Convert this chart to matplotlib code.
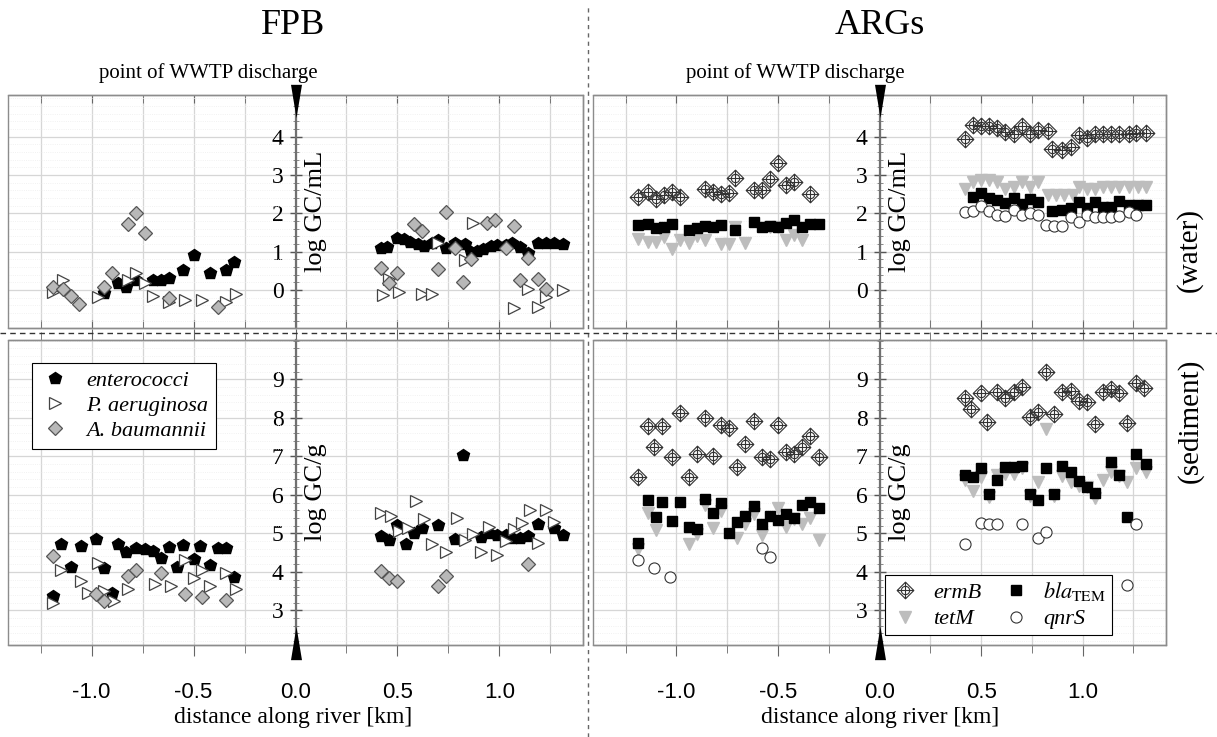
import numpy as np
import matplotlib
matplotlib.use("Agg")
import matplotlib.pyplot as plt
from matplotlib.path import Path
from matplotlib.lines import Line2D
from matplotlib.patches import Rectangle
from matplotlib.ticker import MultipleLocator
import matplotlib.transforms as mtransforms

plt.rcParams['font.family'] = ['Liberation Serif', 'DejaVu Serif']
plt.rcParams['mathtext.fontset'] = 'stix'
plt.rcParams['axes.unicode_minus'] = False

# ---------------- data: FPB, water (log GC/mL) ----------------
ent_w_x = [-0.94, -0.87, -0.83, -0.78, -0.70, -0.66, -0.62, -0.55, -0.50, -0.42, -0.34, -0.30,
           0.42, 0.45, 0.50, 0.53, 0.56, 0.60, 0.63, 0.67, 0.70, 0.74, 0.78, 0.83, 0.86, 0.89,
           0.92, 0.96, 0.99, 1.03, 1.06, 1.10, 1.14, 1.19, 1.23, 1.27, 1.31]
ent_w_y = [-0.08, 0.18, 0.08, 0.26, 0.26, 0.26, 0.31, 0.52, 0.91, 0.45, 0.52, 0.73,
           1.09, 1.13, 1.36, 1.33, 1.26, 1.20, 1.15, 1.22, 1.30, 1.11, 1.22, 1.20, 1.00, 1.03,
           1.06, 1.15, 1.18, 1.18, 1.22, 1.13, 0.96, 1.23, 1.22, 1.22, 1.20]
pae_w_x = [-1.19, -1.14, -0.97, -0.82, -0.78, -0.74, -0.70, -0.62, -0.54, -0.46, -0.34, -0.29,
           0.43, 0.46, 0.51, 0.62, 0.67, 0.70, 0.83, 0.87, 1.07, 1.14, 1.19, 1.23, 1.31]
pae_w_y = [-0.05, 0.26, -0.18, 0.26, 0.45, 0.18, -0.16, -0.31, -0.27, -0.27, -0.31, -0.10,
           -0.13, 0.30, -0.06, -0.09, -0.09, 1.23, 0.78, 1.76, -0.48, 0.02, -0.44, -0.18, 0.0]
aba_w_x = [-1.19, -1.14, -1.10, -1.06, -0.94, -0.90, -0.82, -0.78, -0.74, -0.62, -0.38,
           0.42, 0.46, 0.50, 0.58, 0.62, 0.70, 0.74, 0.78, 0.82, 0.86, 0.94, 0.98, 1.03, 1.07,
           1.10, 1.14, 1.19, 1.23]
aba_w_y = [0.08, 0.02, -0.16, -0.37, 0.08, 0.45, 1.72, 2.00, 1.49, -0.21, -0.44,
           0.57, 0.18, 0.45, 1.72, 1.55, 0.55, 2.04, 1.09, 0.20, 0.80, 1.76, 1.83, 1.09, 1.68,
           0.25, 0.83, 0.30, 0.03]

# ---------------- data: FPB, sediment (log GC/g) ----------------
ent_s_x = [-1.19, -1.15, -1.10, -1.05, -0.98, -0.94, -0.90, -0.87, -0.83, -0.78, -0.74, -0.70,
           -0.66, -0.62, -0.58, -0.55, -0.50, -0.47, -0.42, -0.38, -0.34, -0.30,
           0.42, 0.46, 0.50, 0.54, 0.58, 0.62, 0.70, 0.78, 0.82, 0.91, 0.95, 0.99, 1.03, 1.06,
           1.10, 1.14, 1.19, 1.27, 1.31]
ent_s_y = [3.37, 4.71, 4.13, 4.67, 4.86, 4.11, 3.46, 4.73, 4.51, 4.63, 4.58, 4.54,
           4.37, 4.65, 4.12, 4.69, 4.34, 4.67, 4.17, 4.61, 4.63, 3.87,
           4.93, 4.83, 5.21, 4.71, 5.00, 5.13, 5.21, 4.84, 7.03, 4.91, 5.00, 4.95, 4.95, 4.87,
           4.87, 4.93, 5.23, 5.15, 4.95]
pae_s_x = [-1.19, -1.15, -1.05, -1.02, -0.97, -0.94, -0.89, -0.82, -0.69, -0.61, -0.54, -0.50,
           -0.46, -0.42, -0.34, -0.29,
           0.42, 0.47, 0.51, 0.55, 0.59, 0.63, 0.67, 0.74, 0.79, 0.83, 0.87, 0.91, 0.95, 0.99,
           1.03, 1.07, 1.11, 1.15, 1.19, 1.23, 1.27]
pae_s_y = [3.20, 4.06, 3.76, 3.46, 4.24, 3.50, 3.24, 3.55, 3.68, 3.64, 4.32, 3.83,
           4.04, 3.62, 3.97, 3.55,
           5.54, 5.45, 5.06, 5.13, 5.84, 5.36, 4.71, 4.51, 5.41, 4.83, 4.97, 4.51, 5.16, 4.45,
           4.79, 5.10, 5.28, 5.60, 4.76, 5.60, 5.30]
aba_s_x = [-1.19, -0.98, -0.94, -0.82, -0.78, -0.66, -0.54, -0.46, -0.34,
           0.42, 0.46, 0.50, 0.70, 0.74, 1.14]
aba_s_y = [4.41, 3.42, 3.24, 3.89, 4.06, 3.98, 3.42, 3.35, 3.27,
           4.02, 3.85, 3.75, 3.62, 3.89, 4.21]

# ---------------- data: ARGs, water (log GC/mL) ----------------
erm_w_x = [-1.19, -1.14, -1.10, -1.06, -1.02, -0.98, -0.86, -0.82, -0.78, -0.74, -0.71, -0.62,
           -0.58, -0.54, -0.50, -0.46, -0.42, -0.34,
           0.42, 0.46, 0.50, 0.54, 0.58, 0.62, 0.66, 0.70, 0.74, 0.78, 0.83, 0.85, 0.90, 0.94,
           0.98, 1.02, 1.06, 1.10, 1.14, 1.18, 1.23, 1.26, 1.31]
erm_w_y = [2.42, 2.57, 2.38, 2.48, 2.57, 2.44, 2.65, 2.57, 2.51, 2.52, 2.92, 2.61,
           2.61, 2.90, 3.31, 2.74, 2.83, 2.51,
           3.93, 4.31, 4.28, 4.28, 4.22, 4.13, 4.07, 4.28, 4.07, 4.18, 4.15, 3.67, 3.66, 3.74,
           4.05, 3.96, 4.07, 4.07, 4.07, 4.07, 4.07, 4.11, 4.11]
bla_w_x = [-1.19, -1.14, -1.10, -1.06, -1.02, -0.94, -0.90, -0.86, -0.82, -0.78, -0.71, -0.62,
           -0.58, -0.54, -0.50, -0.46, -0.42, -0.38, -0.34, -0.30,
           0.46, 0.50, 0.54, 0.58, 0.62, 0.66, 0.70, 0.74, 0.78, 0.85, 0.90, 0.94, 0.98, 1.02,
           1.06, 1.10, 1.14, 1.18, 1.23, 1.27, 1.31]
bla_w_y = [1.70, 1.72, 1.63, 1.65, 1.72, 1.57, 1.61, 1.67, 1.65, 1.70, 1.58, 1.78,
           1.65, 1.67, 1.65, 1.74, 1.83, 1.65, 1.72, 1.72,
           2.42, 2.52, 2.39, 2.35, 2.28, 2.39, 2.25, 2.37, 2.31, 2.07, 2.09, 2.13, 2.31, 2.13,
           2.31, 2.18, 2.16, 2.33, 2.22, 2.22, 2.22]
tet_w_x = [-1.19, -1.14, -1.10, -1.06, -1.02, -0.98, -0.94, -0.90, -0.86, -0.78, -0.74, -0.71,
           -0.66, -0.54, -0.50, -0.46, -0.42, -0.38,
           0.42, 0.46, 0.50, 0.54, 0.58, 0.62, 0.66, 0.70, 0.74, 0.78, 0.83, 0.87, 0.91, 0.95,
           0.98, 1.02, 1.06, 1.10, 1.14, 1.18, 1.23, 1.27, 1.31]
tet_w_y = [1.32, 1.26, 1.26, 1.39, 1.06, 1.31, 1.22, 1.41, 1.31, 1.20, 1.20, 1.65,
           1.22, 1.65, 1.65, 1.31, 1.44, 1.31,
           2.65, 2.83, 2.87, 2.87, 2.83, 2.65, 2.68, 2.83, 2.68, 2.83, 2.48, 2.48, 2.48, 2.48,
           2.68, 2.65, 2.65, 2.70, 2.68, 2.68, 2.70, 2.70, 2.68]
qnr_w_x = [0.42, 0.46, 0.50, 0.54, 0.58, 0.62, 0.66, 0.70, 0.74, 0.78, 0.82, 0.86, 0.90, 0.94,
           0.98, 1.02, 1.06, 1.10, 1.14, 1.18, 1.23, 1.26]
qnr_w_y = [2.05, 2.07, 2.19, 2.07, 1.96, 1.93, 2.09, 1.96, 2.00, 1.96, 1.70, 1.67, 1.67, 1.90,
           1.78, 1.96, 1.90, 1.90, 1.90, 1.93, 2.05, 1.96]

# ---------------- data: ARGs, sediment (log GC/g) ----------------
erm_s_x = [-1.19, -1.14, -1.11, -1.07, -1.02, -0.98, -0.94, -0.90, -0.86, -0.82, -0.78, -0.74,
           -0.70, -0.66, -0.62, -0.58, -0.54, -0.50, -0.46, -0.42, -0.38, -0.34, -0.30,
           0.42, 0.45, 0.50, 0.53, 0.58, 0.62, 0.66, 0.70, 0.74, 0.78, 0.82, 0.86, 0.90, 0.94,
           0.98, 1.02, 1.06, 1.10, 1.14, 1.18, 1.22, 1.26, 1.30]
erm_s_y = [6.45, 7.79, 7.24, 7.79, 6.97, 8.13, 6.47, 7.07, 7.99, 7.01, 7.81, 7.73,
           6.71, 7.31, 7.92, 6.98, 6.92, 7.81, 7.10, 7.07, 7.23, 7.53, 6.98,
           8.51, 8.22, 8.65, 7.90, 8.68, 8.51, 8.68, 8.80, 8.02, 8.16, 9.20, 8.11, 8.68, 8.70,
           8.44, 8.42, 7.85, 8.68, 8.74, 8.65, 7.87, 8.91, 8.77]
bla_s_x = [-1.19, -1.14, -1.10, -1.07, -1.02, -0.98, -0.94, -0.90, -0.86, -0.82, -0.78, -0.74,
           -0.70, -0.66, -0.62, -0.58, -0.54, -0.50, -0.46, -0.42, -0.38, -0.34, -0.30,
           0.42, 0.46, 0.50, 0.54, 0.58, 0.62, 0.66, 0.70, 0.74, 0.78, 0.82, 0.86, 0.90, 0.94,
           0.98, 1.02, 1.06, 1.14, 1.18, 1.22, 1.26, 1.31]
bla_s_y = [4.76, 5.86, 5.42, 5.82, 5.32, 5.81, 5.16, 5.12, 5.88, 5.54, 5.80, 5.02,
           5.30, 5.45, 5.71, 5.23, 5.45, 5.34, 5.51, 5.39, 5.74, 5.82, 5.65,
           6.52, 6.46, 6.69, 6.01, 6.38, 6.72, 6.72, 6.75, 6.01, 5.86, 6.70, 6.03, 6.75, 6.58,
           6.36, 6.19, 6.06, 6.84, 6.52, 5.42, 7.07, 6.81]
tet_s_x = [-1.19, -1.14, -1.10, -0.94, -0.90, -0.86, -0.82, -0.78, -0.70, -0.66, -0.62, -0.58,
           -0.50, -0.46, -0.42, -0.38, -0.34, -0.30,
           0.42, 0.46, 0.50, 0.54, 0.58, 0.62, 0.66, 0.70, 0.74, 0.78, 0.82, 0.86, 0.90, 0.94,
           0.98, 1.02, 1.06, 1.10, 1.14, 1.18, 1.22, 1.26, 1.31]
tet_s_y = [4.58, 5.54, 5.08, 4.73, 4.97, 5.74, 5.15, 5.58, 4.89, 5.25, 5.51, 4.96,
           5.65, 5.16, 5.36, 5.23, 5.41, 4.82,
           6.38, 6.10, 6.45, 5.94, 6.52, 6.55, 6.55, 6.70, 5.97, 6.34, 7.70, 5.97, 6.49, 6.32,
           6.23, 6.20, 5.93, 6.38, 6.58, 6.49, 6.34, 6.69, 6.60]
qnr_s_x = [-1.19, -1.11, -1.03, -0.58, -0.54, 0.42, 0.50, 0.54, 0.58, 0.70, 0.78, 0.82, 1.22, 1.26]
qnr_s_y = [4.30, 4.11, 3.87, 4.61, 4.39, 4.71, 5.28, 5.23, 5.25, 5.25, 4.89, 5.03, 3.66, 5.23]

discharge_km = 0.0
xticks = [-1.0, -0.5, 0.0, 0.5, 1.0]

# diamond with circle and cross for ermB
circ = Path.circle((0, 0), 0.5)
diam = Path([(0, 1), (1, 0), (0, -1), (-1, 0), (0, 1)],
            [Path.MOVETO, Path.LINETO, Path.LINETO, Path.LINETO, Path.CLOSEPOLY])
cross = Path([(0, 1), (0, -1), (-1, 0), (1, 0)],
             [Path.MOVETO, Path.LINETO, Path.MOVETO, Path.LINETO])
erm_marker = Path.make_compound_path(diam, circ, cross)
tri_down = Path([(-0.33, 1), (0.33, 1), (0, -1), (-0.33, 1)],
                [Path.MOVETO, Path.LINETO, Path.LINETO, Path.CLOSEPOLY])
tri_up = Path([(-0.33, -1), (0.33, -1), (0, 1), (-0.33, -1)],
              [Path.MOVETO, Path.LINETO, Path.LINETO, Path.CLOSEPOLY])

fig = plt.figure(figsize=(12.17, 7.37), dpi=100)
L, W_l = 8 / 1217, 575 / 1217
R, W_r = 593 / 1217, 573 / 1217
B_top, H_top = 1 - 328 / 737, 233 / 737
B_bot, H_bot = 1 - 645 / 737, 305 / 737

ax_fw = fig.add_axes([L, B_top, W_l, H_top])
ax_fs = fig.add_axes([L, B_bot, W_l, H_bot])
ax_aw = fig.add_axes([R, B_top, W_r, H_top])
ax_as = fig.add_axes([R, B_bot, W_r, H_bot])

frame_c = '#8c8c8c'
grid_c = '#d6d6d6'


def setup(ax, ylim, yticks, ylabel, bottom):
    ax.set_xlim(-1.41, 1.41)
    ax.set_ylim(*ylim)
    ax.set_yticks(yticks)
    ax.set_xticks(xticks)
    ax.xaxis.set_minor_locator(MultipleLocator(0.25))
    ax.yaxis.set_minor_locator(MultipleLocator(0.2))
    ax.grid(which='major', color=grid_c, lw=0.9, zorder=0)
    ax.grid(which='minor', axis='x', color=grid_c, lw=0.9, zorder=0)
    ax.grid(which='minor', axis='y', color='#ededed', lw=0.6, ls=':', zorder=0)
    ax.set_axisbelow(True)
    ax.spines['left'].set_position(('data', discharge_km))
    ax.spines['left'].set_color('#707070')
    ax.spines['left'].set_linewidth(1.6)
    for s in ['top', 'bottom', 'right']:
        ax.spines[s].set_color(frame_c)
        ax.spines[s].set_linewidth(1.0)
    ax.add_patch(Rectangle((0, 0), 1, 1, transform=ax.transAxes, fill=False,
                           ec=frame_c, lw=1.0, clip_on=False, zorder=5))
    ax.tick_params(axis='y', which='major', direction='inout', length=9, width=1,
                   color='#555555', labelsize=17, pad=4)
    ax.tick_params(axis='y', which='minor', direction='inout', length=4, width=0.6,
                   color='#777777')
    ax.tick_params(axis='x', which='both', top=True, bottom=True, color='#666666')
    if bottom:
        ax.tick_params(axis='x', which='major', direction='out', length=8, pad=19,
                       labelsize=16, labelfontfamily=['Liberation Sans Narrow', 'Liberation Sans'])
        ax.tick_params(axis='x', which='minor', direction='out', length=6)
        ax.set_xticklabels(['%.1f' % t for t in xticks])
    else:
        ax.tick_params(axis='x', which='both', direction='in', length=6, labelbottom=False)
    ax.text(0.10, 0.5, ylabel, rotation=90, ha='center', va='center', fontsize=19,
            transform=mtransforms.blended_transform_factory(ax.transData, ax.transAxes))
    trans = mtransforms.blended_transform_factory(ax.transData, ax.transAxes)
    if bottom:
        ax.plot([discharge_km], [0.005], marker=tri_up, ms=24, color='black', mew=0,
                transform=trans, clip_on=False, zorder=10)
    else:
        ax.plot([discharge_km], [0.974], marker=tri_down, ms=24, color='black', mew=0,
                transform=trans, clip_on=False, zorder=10)


setup(ax_fw, (-0.99, 5.09), [0, 1, 2, 3, 4], 'log GC/mL', False)
setup(ax_aw, (-0.99, 5.09), [0, 1, 2, 3, 4], 'log GC/mL', False)
setup(ax_fs, (2.1, 10.02), [3, 4, 5, 6, 7, 8, 9], 'log GC/g', True)
setup(ax_as, (2.1, 10.02), [3, 4, 5, 6, 7, 8, 9], 'log GC/g', True)

ent_kw = dict(ls='none', marker='p', ms=9, mfc='black', mec='black', zorder=3)
pae_kw = dict(ls='none', marker='>', ms=9, mfc='white', mec='#444444', mew=0.9, zorder=3)
aba_kw = dict(ls='none', marker='D', ms=7, mfc='#b8b8b8', mec='#555555', mew=0.9, zorder=3)
erm_kw = dict(ls='none', marker=erm_marker, ms=12, mfc='none', mec='#333333', mew=0.8, zorder=3)
bla_kw = dict(ls='none', marker='s', ms=7.5, mfc='black', mec='black', zorder=3)
tet_kw = dict(ls='none', marker='v', ms=9, mfc='#bdbdbd', mec='#bdbdbd', zorder=3)
qnr_kw = dict(ls='none', marker='o', ms=8, mfc='white', mec='#333333', mew=0.8, zorder=3)

# FPB
ax_fw.plot(ent_w_x, ent_w_y, **ent_kw)
ax_fw.plot(pae_w_x, pae_w_y, **pae_kw)
ax_fw.plot(aba_w_x, aba_w_y, **aba_kw)
h1, = ax_fs.plot(ent_s_x, ent_s_y, label='enterococci', **ent_kw)
h2, = ax_fs.plot(pae_s_x, pae_s_y, label='P. aeruginosa', **pae_kw)
h3, = ax_fs.plot(aba_s_x, aba_s_y, label='A. baumannii', **aba_kw)
leg1 = ax_fs.legend(handles=[h1, h2, h3], loc='upper left', bbox_to_anchor=(0.042, 0.925),
                    prop=dict(style='italic', size=16), frameon=True, fancybox=False,
                    edgecolor='black', framealpha=1, borderpad=0.35, labelspacing=0.2,
                    handletextpad=0.7, handlelength=1.4, borderaxespad=0)
leg1.get_frame().set_linewidth(0.8)
leg1.set_zorder(20)

# ARGs
ax_aw.plot(erm_w_x, erm_w_y, **erm_kw)
ax_aw.plot(tet_w_x, tet_w_y, **tet_kw)
ax_aw.plot(bla_w_x, bla_w_y, **bla_kw)
ax_aw.plot(qnr_w_x, qnr_w_y, **qnr_kw)
g1, = ax_as.plot(erm_s_x, erm_s_y, label='ermB', **erm_kw)
g2, = ax_as.plot(tet_s_x, tet_s_y, label='tetM', **tet_kw)
g3, = ax_as.plot(bla_s_x, bla_s_y, label=r'$\mathit{bla}_{\mathrm{TEM}}$', **bla_kw)
g4, = ax_as.plot(qnr_s_x, qnr_s_y, label='qnrS', **qnr_kw)
leg2 = ax_as.legend(handles=[g1, g2, g3, g4], ncol=2, loc='lower left',
                    bbox_to_anchor=(0.51, 0.033), prop=dict(style='italic', size=16),
                    frameon=True, fancybox=False, edgecolor='black', framealpha=1,
                    borderpad=0.25, labelspacing=0.25, handletextpad=0.6, handlelength=1.3,
                    columnspacing=0.9, borderaxespad=0)
leg2.get_frame().set_linewidth(0.8)
leg2.set_zorder(20)

# figure-level text
fig.text(293 / 1217, 1 - 25 / 737, 'FPB', ha='center', va='center', fontsize=26)
fig.text(880 / 1217, 1 - 25 / 737, 'ARGs', ha='center', va='center', fontsize=26)
fig.text(208 / 1217, 1 - 73 / 737, 'point of WWTP discharge', ha='center', va='center', fontsize=15)
fig.text(795 / 1217, 1 - 73 / 737, 'point of WWTP discharge', ha='center', va='center', fontsize=15)
fig.text(293 / 1217, 1 - 717 / 737, 'distance along river [km]', ha='center', va='center', fontsize=17)
fig.text(880 / 1217, 1 - 717 / 737, 'distance along river [km]', ha='center', va='center', fontsize=17)
fig.text(1189 / 1217, 1 - 250 / 737, '(water)', rotation=90, ha='center', va='center', fontsize=21)
fig.text(1190 / 1217, 1 - 421 / 737, '(sediment)', rotation=90, ha='center', va='center', fontsize=21)

# dashed separators
fig.add_artist(Line2D([588 / 1217, 588 / 1217], [0, 0.995], transform=fig.transFigure,
                      color='#666666', lw=1.0, ls=(0, (3, 3))))
fig.add_artist(Line2D([0, 1], [1 - 333 / 737, 1 - 333 / 737], transform=fig.transFigure,
                      color='#333333', lw=1.0, ls=(0, (4, 3))))

fig.savefig('out.png', dpi=100)
